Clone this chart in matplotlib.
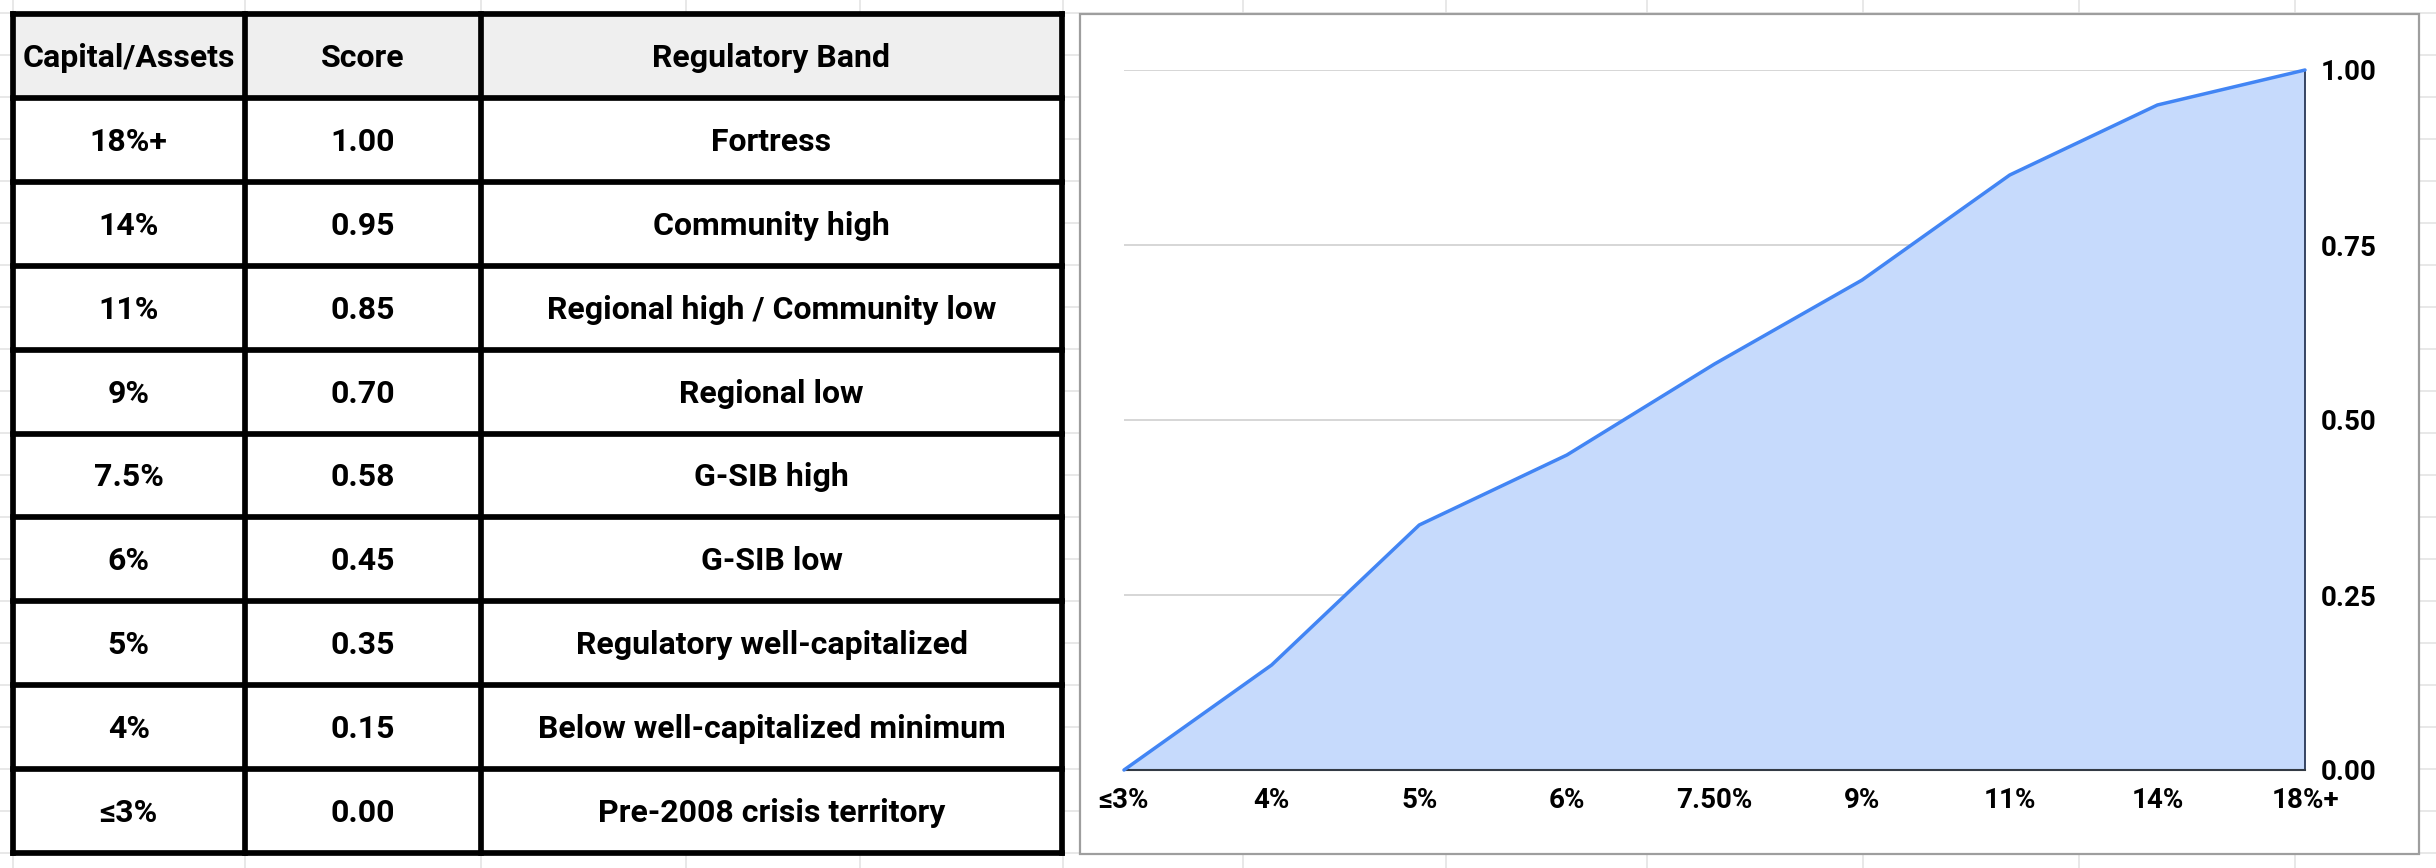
import matplotlib.pyplot as plt
from matplotlib.patches import Rectangle

# table data
capital = ["18%+", "14%", "11%", "9%", "7.5%", "6%", "5%", "4%", "≤3%"]
scores = [1.00, 0.95, 0.85, 0.70, 0.58, 0.45, 0.35, 0.15, 0.00]
bands = ["Fortress", "Community high", "Regional high / Community low",
         "Regional low", "G-SIB high", "G-SIB low",
         "Regulatory well-capitalized", "Below well-capitalized minimum",
         "Pre-2008 crisis territory"]
headers = ["Capital/Assets", "Score", "Regulatory Band"]

# chart data (left to right)
chart_labels = ["≤3%", "4%", "5%", "6%", "7.50%", "9%", "11%", "14%", "18%+"]
chart_scores = [0.00, 0.15, 0.35, 0.45, 0.58, 0.70, 0.85, 0.95, 1.00]
y_ticks = [0.00, 0.25, 0.50, 0.75, 1.00]

FONT = ["Roboto", "DejaVu Sans"]
W, H = 2436, 868

fig = plt.figure(figsize=(W / 100, H / 100), dpi=100)
bg = fig.add_axes([0, 0, 1, 1])
bg.set_xlim(0, W)
bg.set_ylim(H, 0)
bg.axis("off")

# spreadsheet gridlines behind everything
col_lines = [13, 245, 481, 686, 860, 1063, 1243, 1446, 1647, 1863, 2079, 2295]
for x in col_lines:
    bg.plot([x, x], [0, H], color="#e2e2e2", lw=1.1, zorder=0)
y = 13
while y < H:
    bg.plot([0, W], [y, y], color="#e2e2e2", lw=1.1, zorder=0)
    y += 42

# table
col_x = [13, 244.5, 481, 1062]
top, row_h = 14, 83.9
n_rows = len(capital) + 1
bg.add_patch(Rectangle((col_x[0], top), col_x[-1] - col_x[0], n_rows * row_h,
                       facecolor="white", edgecolor="none", zorder=1))
bg.add_patch(Rectangle((col_x[0], top), col_x[-1] - col_x[0], row_h,
                       facecolor="#efefef", edgecolor="none", zorder=1))
for x in col_x:
    bg.plot([x, x], [top, top + n_rows * row_h], color="black", lw=4.1,
            solid_capstyle="projecting", zorder=3)
for r in range(n_rows + 1):
    yy = top + r * row_h
    bg.plot([col_x[0], col_x[-1]], [yy, yy], color="black", lw=4.1,
            solid_capstyle="projecting", zorder=3)

rows = [headers] + [[c, f"{s:.2f}", b] for c, s, b in zip(capital, scores, bands)]
for r, row in enumerate(rows):
    base = top + r * row_h + row_h / 2 + 11
    for c, txt in enumerate(row):
        cx = (col_x[c] + col_x[c + 1]) / 2
        bg.text(cx, base, txt, ha="center", va="baseline", fontsize=23,
                fontweight="bold", family=FONT, color="black", zorder=4)

# chart box
bg.add_patch(Rectangle((1080, 14), 2419 - 1080, 854 - 14, facecolor="white",
                       edgecolor="#9e9e9e", lw=1.6, zorder=1))

# area chart
x0, x1, y0, y1 = 1124, 2305, 70, 770
ax = fig.add_axes([x0 / W, 1 - y1 / H, (x1 - x0) / W, (y1 - y0) / H])
ax.set_facecolor("none")
xs = list(range(len(chart_labels)))
ax.fill_between(xs, chart_scores, 0, color="#c6dafc", lw=0, zorder=2)
ax.plot(xs, chart_scores, color="#4285f4", lw=2.5, zorder=4, clip_on=False,
        solid_capstyle="round")
ax.plot([xs[-1], xs[-1]], [0, chart_scores[-1]], color="#1c2a48", lw=1.2,
        zorder=3, clip_on=False)
ax.axhline(0, color="#333a44", lw=1.5, zorder=3, clip_on=False)
ax.set_xlim(0, len(xs) - 1)
ax.set_ylim(0, 1)
ax.set_yticks(y_ticks)
ax.set_yticklabels([f"{v:.2f}" for v in y_ticks])
ax.set_xticks(xs)
ax.set_xticklabels(chart_labels)
ax.yaxis.tick_right()
ax.grid(axis="y", color="#cccccc", lw=1.1, zorder=1)
ax.set_axisbelow(True)
for s in ax.spines.values():
    s.set_visible(False)
ax.tick_params(axis="both", length=0, labelsize=20)
ax.tick_params(axis="y", pad=11)
ax.tick_params(axis="x", pad=12)
for lab in ax.get_xticklabels() + ax.get_yticklabels():
    lab.set_fontweight("bold")
    lab.set_family(FONT)

fig.savefig("out.png", dpi=100)
